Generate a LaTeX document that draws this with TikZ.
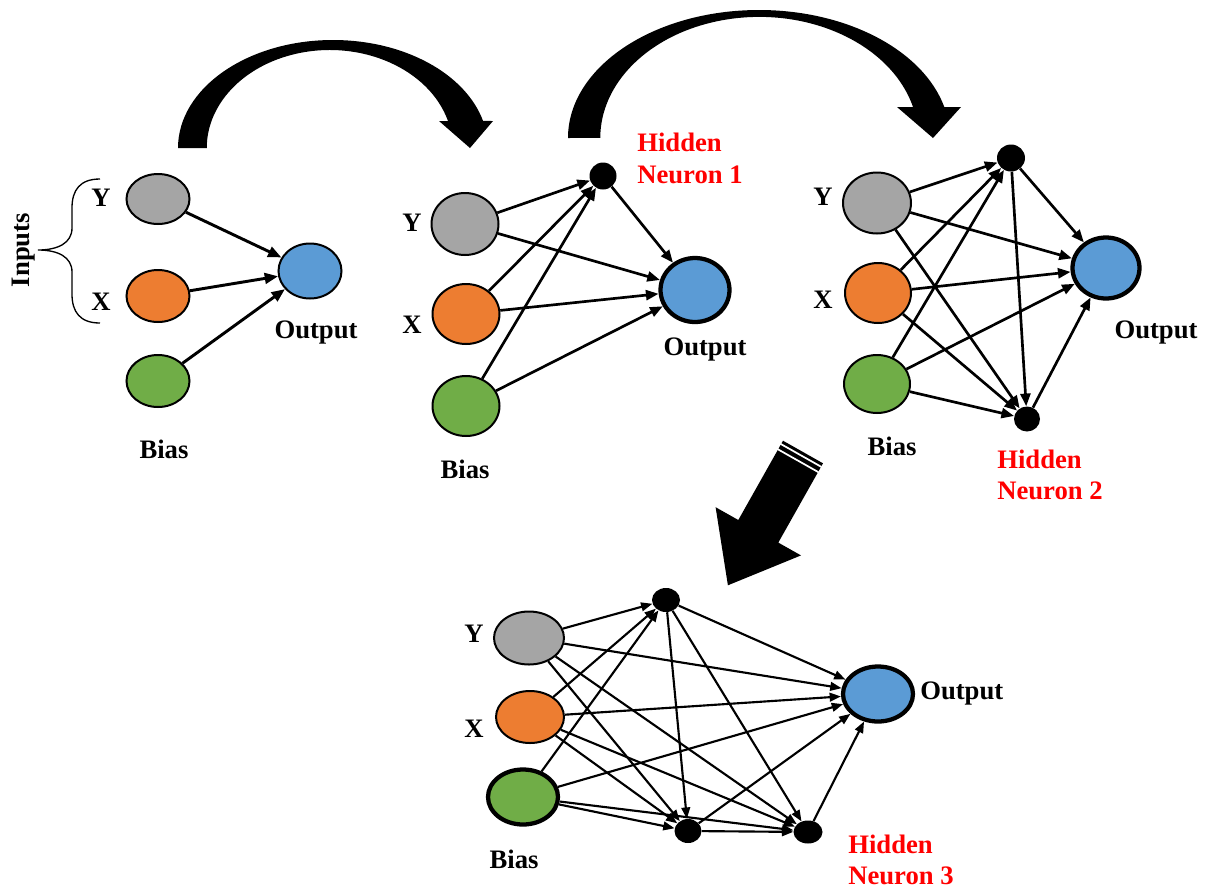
\documentclass[tikz,border=0pt]{standalone}
\usepackage{fontspec}
\setmainfont{Liberation Serif}
\usetikzlibrary{shapes.geometric,arrows.meta}
\newdimen\upx \upx=0.75pt
\definecolor{cgrey}{HTML}{A5A5A5}
\definecolor{corange}{HTML}{ED7D31}
\definecolor{cblue}{HTML}{5B9BD5}
\definecolor{cgreen}{HTML}{70AD47}
\definecolor{cred}{HTML}{FF0000}
\tikzset{
  neuron/.style={ellipse, draw=black, line width=1.5pt, inner sep=0pt},
  thickn/.style={line width=3.2pt},
  hid/.style={ellipse, fill=black, inner sep=0pt},
  lbl/.style={font=\fontsize{20}{23.5}\selectfont\bfseries, inner sep=0pt},
  redlbl/.style={lbl, text=cred, align=left, anchor=west},
  conna/.style={line width=2.2pt, -{Triangle[length=10pt,width=8pt]}},
  conn/.style={line width=2pt, -{Triangle[length=9.5pt,width=7.5pt]}},
  connb/.style={line width=1.6pt, -{Triangle[length=8.5pt,width=6.5pt]}},
  bigarrow/.style={fill=black, draw=none},
}
\begin{document}
\begin{tikzpicture}[x=0.75pt,y=-0.75pt]
\useasboundingbox (0,0) rectangle (1208,890);

% ---------- big arrows ----------
\path[bigarrow] (178,148) arc[start angle=180, end angle=345.5, x radius=155, y radius=108]
  -- (493,121) -- (470,148) -- (439,121) -- (448,121)
  arc[start angle=344, end angle=180, x radius=123, y radius=98] -- cycle;
\path[bigarrow] (568,138) arc[start angle=180, end angle=346, x radius=191, y radius=128]
  -- (961,107) -- (933,138) -- (897,107) -- (913,107)
  arc[start angle=345.2, end angle=180, x radius=159, y radius=121] -- cycle;
\path[bigarrow] (783,440.7) -- (823,463.3) -- (778.3,542.6) -- (801,555.4) -- (727.9,585.3)
  -- (715.6,507.2) -- (738.3,520) -- cycle;
\draw[white, line width=1.3pt] (779.6,443.3) -- (821.4,466.9);
\draw[white, line width=1.3pt] (776.5,448.5) -- (818.3,472.1);

% ---------- panel 1 ----------
\node[neuron, fill=cgrey, minimum width=63\upx, minimum height=50\upx] (aY) at (158,199) {};
\node[neuron, fill=corange, minimum width=63\upx, minimum height=52\upx] (aX) at (158,296) {};
\node[neuron, fill=cgreen, minimum width=63\upx, minimum height=52\upx] (aB) at (158,381) {};
\node[neuron, fill=cblue, minimum width=63\upx, minimum height=55\upx] (aO) at (310,271) {};
\foreach \s in {aY,aX,aB} \draw[conna] (\s) -- (aO);
\node[lbl, anchor=base] (aYl) at (101,206) {Y};
\node[lbl, anchor=base] (aXl) at (101,310) {X};
\node[lbl, anchor=base] (aOl) at (316,338) {Output};
\node[lbl, anchor=base] (aBl) at (164,458) {Bias};
\node[lbl, anchor=base, rotate=90] (aIn) at (30,250) {Inputs};
\draw[line width=1pt] (100,179) .. controls (80,179) and (72,190) .. (72,208) -- (72,228)
  .. controls (72,243) and (58,250) .. (38,250)
  .. controls (58,250) and (72,257) .. (72,272) -- (72,294)
  .. controls (72,312) and (80,323) .. (100,323);

% ---------- panel 2 ----------
\node[neuron, fill=cgrey, minimum width=67\upx, minimum height=62\upx] (bY) at (465,224) {};
\node[neuron, fill=corange, minimum width=67\upx, minimum height=60\upx] (bX) at (466,314) {};
\node[neuron, fill=cgreen, minimum width=67\upx, minimum height=60\upx] (bB) at (466,406) {};
\node[hid, minimum width=27\upx, minimum height=27\upx] (bH) at (603,176) {};
\node[neuron, thickn, fill=cblue, minimum width=69\upx, minimum height=64\upx] (bO) at (695,290) {};
\foreach \s in {bY,bX,bB} {\draw[conn] (\s) -- (bH); \draw[conn] (\s) -- (bO);}
\draw[conn] (bH) -- (bO);
\node[lbl, anchor=base] (bYl) at (412,231) {Y};
\node[lbl, anchor=base] (bXl) at (412,333) {X};
\node[lbl, anchor=base] (bBl) at (465,478) {Bias};
\node[lbl, anchor=base] (bOl) at (705,355) {Output};
\node[redlbl] (bHl) at (637,158.3) {Hidden\\Neuron 1};

% ---------- panel 3 ----------
\node[neuron, fill=cgrey, minimum width=68\upx, minimum height=61\upx] (cY) at (877,203) {};
\node[neuron, fill=corange, minimum width=66\upx, minimum height=60\upx] (cX) at (878,293) {};
\node[neuron, fill=cgreen, minimum width=66\upx, minimum height=58\upx] (cB) at (877,384) {};
\node[hid, minimum width=28\upx, minimum height=27\upx] (cT) at (1011,158) {};
\node[hid, minimum width=26\upx, minimum height=25\upx] (cH) at (1027,419) {};
\node[neuron, thickn, fill=cblue, minimum width=67\upx, minimum height=61\upx] (cO) at (1106,268) {};
\foreach \s in {cY,cX,cB} {\draw[conn] (\s) -- (cT); \draw[conn] (\s) -- (cO); \draw[conn] (\s) -- (cH);}
\draw[conn] (cT) -- (cO);
\draw[conn] (cT) -- (cH);
\draw[conn] (cH) -- (cO);
\node[lbl, anchor=base] (cYl) at (823,205) {Y};
\node[lbl, anchor=base] (cXl) at (823,308) {X};
\node[lbl, anchor=base] (cBl) at (892,455) {Bias};
\node[lbl, anchor=base] (cOl) at (1156,338) {Output};
\node[redlbl] (cHl) at (997,474.8) {Hidden\\Neuron 2};

% ---------- panel 4 ----------
\node[neuron, fill=cgrey, minimum width=70\upx, minimum height=53\upx] (dY) at (529,638) {};
\node[neuron, fill=corange, minimum width=68\upx, minimum height=52\upx] (dX) at (530,717) {};
\node[neuron, thickn, fill=cgreen, minimum width=70\upx, minimum height=55\upx] (dB) at (523,797) {};
\node[hid, minimum width=28\upx, minimum height=24\upx] (dT) at (666,600) {};
\node[hid, minimum width=27\upx, minimum height=24\upx] (dL) at (688,831) {};
\node[hid, minimum width=29\upx, minimum height=23\upx] (dR) at (808,832) {};
\node[neuron, thickn, fill=cblue, minimum width=70\upx, minimum height=55\upx] (dO) at (878,694) {};
\foreach \s in {dY,dX,dB} {\draw[connb] (\s) -- (dT); \draw[connb] (\s) -- (dO); \draw[connb] (\s) -- (dL); \draw[connb] (\s) -- (dR);}
\draw[connb] (dT) -- (dO);
\draw[connb] (dT) -- (dL);
\draw[connb] (dT) -- (dR);
\draw[connb] (dL) -- (dR);
\draw[connb] (dL) -- (dO);
\draw[connb] (dR) -- (dO);
\node[lbl, anchor=base] (dYl) at (474,642) {Y};
\node[lbl, anchor=base] (dXl) at (474,737) {X};
\node[lbl, anchor=base] (dBl) at (514,868) {Bias};
\node[lbl, anchor=base west] (dOl) at (920,699) {Output};
\node[redlbl] (dHl) at (848,859.8) {Hidden\\Neuron 3};
\end{tikzpicture}
\end{document}
